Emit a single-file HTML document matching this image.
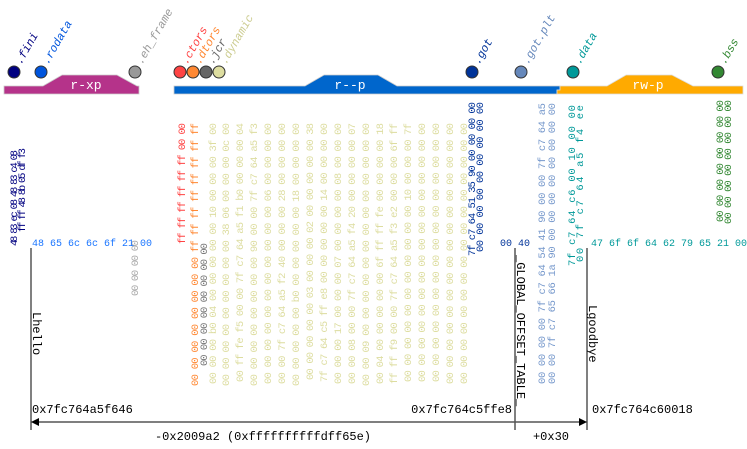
<!DOCTYPE html>
<html><head><meta charset="utf-8">
<style>
html,body{margin:0;padding:0;background:#fff;}
svg{display:block;}
text{font-family:"Liberation Mono",monospace;}
</style></head>
<body>
<svg id="chart" width="747" height="449" viewBox="0 0 747 449" xmlns="http://www.w3.org/2000/svg">
  <path d="M4,86 H43 L62,75 H117 L137,86 H139 V94 H4 Z" fill="#b5338a" stroke="#ccc" stroke-width="0.8"/>
  <text x="86" y="89" fill="#fff" font-size="13" text-anchor="middle">r-xp</text>
  <path d="M174,86 H305 L324,75 H378 L397,86 H560 V90 H557 V94 H174 Z" fill="#0066cc" stroke="#ccc" stroke-width="0.8"/>
  <text x="350" y="89" fill="#fff" font-size="13" text-anchor="middle">r--p</text>
  <path d="M560,86 H607 L626,75 H672 L693,86 H743 V94 H557 V90 H560 Z" fill="#ffaa00" stroke="#ddd" stroke-width="0.8"/>
  <text x="648" y="89" fill="#fff" font-size="13" text-anchor="middle">rw-p</text>
  <g id="sections"></g>
  <g id="hex"></g>
  <line x1="31" y1="248" x2="31" y2="430" stroke="#000" stroke-width="1"/>
  <line x1="515" y1="248" x2="515" y2="430" stroke="#000" stroke-width="1"/>
  <line x1="587" y1="248" x2="587" y2="430" stroke="#000" stroke-width="1"/>
  <text transform="translate(33,312) rotate(90)" font-size="12" fill="#000">Lhello</text>
  <text transform="translate(517,255) rotate(90)" font-size="12" fill="#000">_GLOBAL_OFFSET_TABLE_</text>
  <text transform="translate(589,305) rotate(90)" font-size="12" fill="#000">Lgoodbye</text>
  <text x="32" y="413" font-size="12" fill="#000">0x7fc764a5f646</text>
  <text x="512" y="413" font-size="12" fill="#000" text-anchor="end">0x7fc764c5ffe8</text>
  <text x="592" y="413" font-size="12" fill="#000">0x7fc764c60018</text>
  <line x1="38" y1="422" x2="580" y2="422" stroke="#555" stroke-width="1.5"/>
  <path d="M31,422 L39,418 L39,426 Z" fill="#000"/>
  <path d="M587,422 L579,418 L579,426 Z" fill="#000"/>
  <text x="263" y="440" font-size="12" fill="#000" text-anchor="middle">-0x2009a2 (0xffffffffffdff65e)</text>
  <text x="551" y="440" font-size="12" fill="#000" text-anchor="middle">+0x30</text>
</svg>
<script>
const NS="http://www.w3.org/2000/svg";
const secNames=[".fini",".rodata",".eh_frame",".ctors",".dtors",".jcr",".dynamic",".got",".got.plt",".data",".bss"];
const secX=[14,41,135,180,193,206,219,472,521,573,718];
const secCol=["#000080","#0055dd","#999999","#ff4444","#ff8833","#666666","#dddda0","#003399","#6688bb","#009999","#338833"];
const sg=document.getElementById('sections');
secNames.forEach((n,i)=>{
  const c=document.createElementNS(NS,'circle');
  
  
  c.setAttribute('cx',secX[i]);c.setAttribute('cy',72);c.setAttribute('r',6);
  c.setAttribute('fill',secCol[i]);c.setAttribute('stroke','#333');c.setAttribute('stroke-width','1');
  sg.appendChild(c);
  const t=document.createElementNS(NS,'text');
  
  
  t.setAttribute('transform','translate('+(secX[i]+7)+',65) rotate(-60)');
  t.setAttribute('font-size','11.5');t.setAttribute('font-style','italic');
  t.setAttribute('fill',secCol[i]==="#dddda0"?"#cccc90":secCol[i]);
  t.textContent=n;sg.appendChild(t);
});
const colX=[14,22,135,182,195,204,213,226,240,254,268,282,296,310,324,338,352,366,380,394,408,422,436,450,464,472,480,542,552,572,580,720,728];
const colTop=[150,148,240,123,123,243,123,123,123,123,123,123,123,123,123,123,123,123,123,123,123,123,123,123,123,102,102,103,103,105,105,100,100];
const colBot=[246,232,296,244,386,366,384,386,382,386,384,384,386,380,382,384,384,386,384,384,382,382,382,384,384,256,252,384,384,266,262,222,224];
const colC=["#000080","#000080","#aaa","#ff4444","#ff8833","#777","#dddda0","#dddda0","#dddda0","#dddda0","#dddda0","#dddda0","#dddda0","#dddda0","#dddda0","#dddda0","#dddda0","#dddda0","#dddda0","#dddda0","#dddda0","#dddda0","#dddda0","#dddda0","#dddda0","#003399","#003399","#7799cc","#7799cc","#009999","#009999","#338833","#338833"];
const colT=["48 83 ec 08 48 83 c4 08","ff ff 48 8b 05 df f3","00 00 00 00","ff ff ff ff ff ff 00 00","00 00 00 00 00 00 00 00 ff ff ff ff ff ff ff ff","00 00 00 00 00 00 00 00","00 00 00 b0 04 00 00 00 00 00 10 00 00 00 3f 00","00 00 00 00 00 00 00 00 00 38 06 00 00 00 0c 00","00 ff fe f5 00 00 7f c7 64 a5 f1 b0 00 00 00 04","00 00 00 00 00 00 00 00 90 00 00 7f c7 64 a5 f3","00 00 00 00 00 00 00 00 00 00 00 06 00 00 00 00","00 00 7f c7 64 a5 f2 40 00 00 00 28 00 00 00 00","00 00 00 00 00 b0 00 00 00 00 00 18 00 00 00 00","00 00 00 00 00 03 00 00 00 02 00 00 00 00 00 38","7f c7 64 c5 ff e8 00 00 00 00 00 14 00 00 00 00","00 00 00 17 00 00 00 07 00 00 00 00 08 00 00 00","00 00 08 00 00 7f c7 64 a5 f4 20 00 00 00 00 07","00 00 09 00 00 00 00 00 00 00 00 00 00 00 00 00","00 04 00 00 00 00 00 6f ff ff fe 00 00 00 00 18","ff ff f9 00 00 7f c7 64 a5 f3 e2 00 00 00 6f ff","00 00 00 00 00 00 00 00 00 00 00 10 00 00 00 7f","00 00 00 00 00 00 00 00 00 00 00 00 00 00 00 00","00 00 00 00 00 00 00 00 00 00 00 00 00 00 00 00","00 00 00 00 00 00 00 00 00 00 00 00 00 00 00 00","00 00 00 00 00 00 00 00 00 00 00 00 00 00 00 00","7f c7 64 51 35 90 00 00 00 00","00 00 00 00 00 00 00 00 00","00 00 00 00 7f c7 64 54 41 90 00 00 7f c7 64 a5","00 00 7f c7 65 66 1a 90 00 00 00 00 00 00 00 00","7f c7 64 c6 00 10 00 00","00 7f c7 64 a5 f4 ee","00 00 00 00 00 00 00 00","00 00 00 00 00 00 00 00"];
const hg=document.getElementById('hex');
colX.forEach((x,i)=>{
  const t=document.createElementNS(NS,'text');
  
  
  t.setAttribute('transform','translate('+(x+3)+','+colBot[i]+') rotate(-90)');
  t.setAttribute('font-size','10.5');t.setAttribute('fill',colC[i]);
  t.setAttribute('textLength',colBot[i]-colTop[i]);
  t.setAttribute('lengthAdjust','spacing');
  t.textContent=colT[i];hg.appendChild(t);
});
const rowX=[32,500,591];
const rowC=["#1a75ff","#003399","#009999"];
const rowT=["48 65 6c 6c 6f 21 00","00 40","47 6f 6f 64 62 79 65 21 00"];
rowX.forEach((x,i)=>{
  const t=document.createElementNS(NS,'text');
  
  
  t.setAttribute('x',x);t.setAttribute('y',246);
  t.setAttribute('font-size','10');t.setAttribute('fill',rowC[i]);
  t.textContent=rowT[i];hg.appendChild(t);
});
</script>
</body></html>
